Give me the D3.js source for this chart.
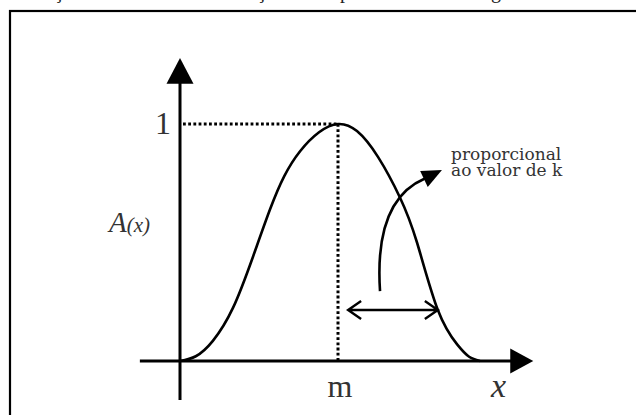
<!DOCTYPE html>
<html>
<head>
<meta charset="utf-8">
<script src="https://cdn.jsdelivr.net/npm/d3@7"></script>
<style>
  body{margin:0;background:#fff;}
  svg{display:block;}
</style>
</head>
<body>
<div id="container"></div>
<script>
let w=636;
let h=415;

// bell curve (x in axis units, A between 0 and 1)
var curveX=[0,0.5,1.04,1.68,2.31,2.85,3.30,3.80,4.40,5.0,5.6,6.27,6.96,7.5,8.16,8.77,9.15,9.49];
var curveA=[0,0.02,0.085,0.225,0.44,0.64,0.78,0.885,0.965,1,0.97,0.86,0.69,0.5,0.215,0.07,0.018,0];
var mValue=5;
var peakValue=1;
var yTickLabels=["1"];
var xTickLabels=["m"];
var noteLines=["proporcional","ao valor de k"];
var titleWords=["Ilustração da","função de","pertinência","gaussiana"];

var x=d3.scaleLinear().domain([0,10]).range([180,496]);
var y=d3.scaleLinear().domain([0,1]).range([361,124]);

let viz=d3.select("#container")
  .append("svg")
  .attr("width",w)
  .attr("height",h);

// caption of the figure above, mostly cut off
let title=viz.append("text")
  .attr("y",-2)
  .attr("font-family","Liberation Serif")
  .attr("font-size",20)
  .attr("fill","#222");
let titleX=[3,230,340,491];
titleWords.forEach(function(t,i){
  title.append("tspan").attr("x",titleX[i]).text(t);
});

// frame
viz.append("rect")
  .attr("x",10)
  .attr("y",11)
  .attr("width",660)
  .attr("height",430)
  .attr("fill","none")
  .attr("stroke","#000")
  .attr("stroke-width",2.2);

// axes
viz.append("line")
  .attr("x1",x(-1.27)).attr("y1",y(0))
  .attr("x2",x(10.5)).attr("y2",y(0))
  .attr("stroke","#000").attr("stroke-width",3);
viz.append("path")
  .attr("d","M"+x(10.45)+","+(y(0)-12.5)+"L"+x(11.18)+","+y(0)+"L"+x(10.45)+","+(y(0)+12.5)+"Z")
  .attr("fill","#000");
viz.append("line")
  .attr("x1",x(0)).attr("y1",y(-0.165))
  .attr("x2",x(0)).attr("y2",y(1.2))
  .attr("stroke","#000").attr("stroke-width",3);
viz.append("path")
  .attr("d","M"+(x(0)-13.5)+","+y(1.17)+"L"+x(0)+","+y(1.278)+"L"+(x(0)+13.5)+","+y(1.17)+"Z")
  .attr("fill","#000");

// dotted guides to the peak
viz.append("line")
  .attr("x1",x(0)+3).attr("y1",y(peakValue))
  .attr("x2",x(mValue)).attr("y2",y(peakValue))
  .attr("stroke","#000").attr("stroke-width",3)
  .attr("stroke-dasharray","2.8,2.4");
viz.append("line")
  .attr("x1",x(mValue)).attr("y1",y(peakValue))
  .attr("x2",x(mValue)).attr("y2",y(0))
  .attr("stroke","#000").attr("stroke-width",3)
  .attr("stroke-dasharray","2.8,2.4");

// the curve
let pts=curveX.map(function(d,i){return [x(d),y(curveA[i])];});
viz.append("path")
  .attr("d",d3.line().curve(d3.curveNatural)(pts))
  .attr("fill","none")
  .attr("stroke","#000")
  .attr("stroke-width",2.6);

// width arrow
let ya=y(0.215);
let xl=x(5.32), xr=x(8.16);
viz.append("path")
  .attr("d","M"+xl+","+ya+"L"+xr+","+ya+
    "M"+(xl+13)+","+(ya-9)+"L"+xl+","+ya+"L"+(xl+13)+","+(ya+9)+
    "M"+(xr-13)+","+(ya-9)+"L"+xr+","+ya+"L"+(xr-13)+","+(ya+9))
  .attr("fill","none")
  .attr("stroke","#000")
  .attr("stroke-width",2.4);

// curved pointer to the note
viz.append("path")
  .attr("d","M"+x(6.33)+","+y(0.295)+"Q"+x(6.14)+","+y(0.679)+" "+x(7.75)+","+y(0.77))
  .attr("fill","none")
  .attr("stroke","#000")
  .attr("stroke-width",2.6);
viz.append("path")
  .attr("d","M"+x(7.60)+","+y(0.802)+"L"+x(8.29)+","+y(0.806)+"L"+x(7.84)+","+y(0.734)+"Z")
  .attr("fill","#000");

// labels
viz.append("text")
  .attr("x",x(0)-9).attr("y",y(peakValue)+10)
  .attr("text-anchor","end")
  .attr("font-family","Liberation Serif")
  .attr("font-size",32)
  .attr("fill","#333")
  .text(yTickLabels[0]);
viz.append("text")
  .attr("x",x(mValue)+2).attr("y",397)
  .attr("text-anchor","middle")
  .attr("font-family","Liberation Serif")
  .attr("font-size",32)
  .attr("fill","#333")
  .text(xTickLabels[0]);
viz.append("text")
  .attr("x",491).attr("y",397)
  .attr("font-family","Liberation Serif")
  .attr("font-style","italic")
  .attr("font-size",34)
  .attr("fill","#333")
  .text("x");
let ax=viz.append("text")
  .attr("x",109).attr("y",232)
  .attr("font-family","Liberation Serif")
  .attr("font-style","italic")
  .attr("fill","#333");
ax.append("tspan").attr("font-size",29).text("A");
ax.append("tspan").attr("font-size",21).text("(x)");

let note=viz.append("text")
  .attr("font-family","DejaVu Serif")
  .attr("font-size",17)
  .attr("fill","#333");
noteLines.forEach(function(t,i){
  note.append("tspan").attr("x",451).attr("y",160+i*15.5).text(t);
});
</script>
</body>
</html>
